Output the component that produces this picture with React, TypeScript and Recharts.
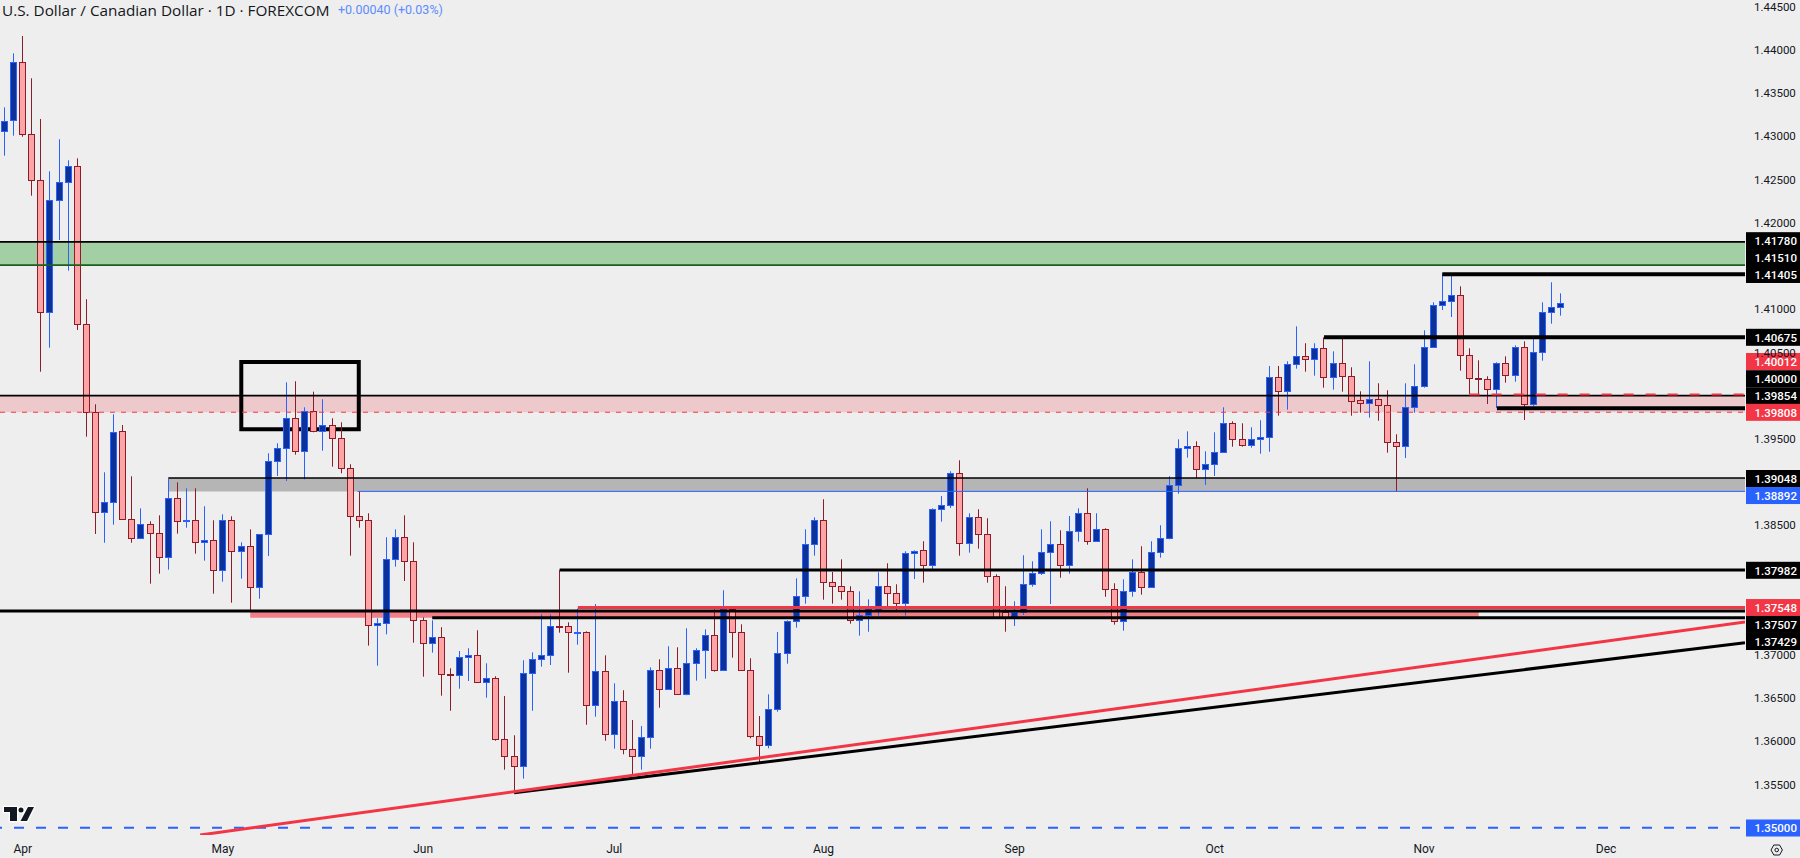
import { Bar, ComposedChart, ReferenceArea, ReferenceDot, ReferenceLine, XAxis, YAxis } from "recharts";

// USD/CAD daily candles
const opens = [
  1.43059, 1.43186, 1.43864, 1.43024, 1.42492, 1.40971, 1.42260, 1.42476, 1.42661, 1.40825,
  1.39814, 1.38650, 1.38766, 1.39587, 1.38569, 1.38349, 1.38511, 1.38407, 1.38129, 1.38812,
  1.38550, 1.38558, 1.38303, 1.38326, 1.37979, 1.38558, 1.38199, 1.38257, 1.37782, 1.38396,
  1.39240, 1.39391, 1.39745, 1.39356, 1.39826, 1.39587, 1.39664, 1.39506, 1.39159, 1.38604,
  1.38558, 1.37343, 1.37366, 1.38106, 1.38361, 1.38083, 1.37400, 1.37134, 1.37204, 1.36776,
  1.36764, 1.36972, 1.36995, 1.36683, 1.36729, 1.36023, 1.35827, 1.35711, 1.36787, 1.36949,
  1.36995, 1.37331, 1.37331, 1.37258, 1.37262, 1.36417, 1.36810, 1.36081, 1.36463, 1.35908,
  1.35827, 1.36047, 1.36822, 1.36602, 1.36845, 1.36544, 1.36903, 1.37053, 1.37227, 1.36822,
  1.37528, 1.37262, 1.36822, 1.36058, 1.35954, 1.36371, 1.37019, 1.37389, 1.37678, 1.38280,
  1.38558, 1.37840, 1.37794, 1.37736, 1.37400, 1.37458, 1.37528, 1.37794, 1.37713, 1.37597,
  1.38176, 1.38210, 1.38037, 1.38685, 1.38731, 1.39101, 1.38291, 1.38592, 1.38396, 1.37910,
  1.37493, 1.37435, 1.37493, 1.37817, 1.37944, 1.38187, 1.38280, 1.38037, 1.38430, 1.38639,
  1.38315, 1.38453, 1.37759, 1.37389, 1.37736, 1.37956, 1.37782, 1.38187, 1.38349, 1.38963,
  1.39391, 1.39414, 1.39148, 1.39206, 1.39344, 1.39680, 1.39495, 1.39425, 1.39495, 1.39518,
  1.40212, 1.40050, 1.40363, 1.40455, 1.40421, 1.40548, 1.40212, 1.40374, 1.40224, 1.39946,
  1.39918, 1.39958, 1.39895, 1.39460, 1.39421, 1.39865, 1.40108, 1.40559, 1.41045, 1.41092,
  1.41161, 1.40467, 1.40201, 1.40189, 1.40073, 1.40374, 1.40235, 1.40559, 1.39900, 1.40502,
  1.40964, 1.41022,
];
const highs = [
  1.43336, 1.43961, 1.44161, 1.43672, 1.43201, 1.42596, 1.42966, 1.42723, 1.42746, 1.41115,
  1.39900, 1.39113, 1.39784, 1.39660, 1.39067, 1.38696, 1.38546, 1.38615, 1.39035, 1.38997,
  1.38928, 1.38928, 1.38720, 1.38558, 1.38627, 1.38604, 1.38303, 1.38453, 1.38396, 1.39333,
  1.39449, 1.40154, 1.40166, 1.39865, 1.40046, 1.39958, 1.39738, 1.39692, 1.39206, 1.38893,
  1.38639, 1.37424, 1.38361, 1.38453, 1.38615, 1.38303, 1.37435, 1.37400, 1.37320, 1.36845,
  1.37045, 1.37077, 1.37285, 1.36903, 1.36753, 1.36525, 1.36070, 1.36938, 1.37030, 1.37473,
  1.37470, 1.37979, 1.37377, 1.37535, 1.37273, 1.37589, 1.36995, 1.36671, 1.36591, 1.36247,
  1.36177, 1.36856, 1.36949, 1.37100, 1.37088, 1.37308, 1.37077, 1.37296, 1.37528, 1.37748,
  1.37531, 1.37354, 1.36961, 1.36293, 1.36544, 1.37265, 1.37400, 1.37886, 1.38453, 1.38592,
  1.38801, 1.37959, 1.38106, 1.37794, 1.37736, 1.37643, 1.37956, 1.38060, 1.37817, 1.38199,
  1.38210, 1.38315, 1.38696, 1.38839, 1.39125, 1.39252, 1.38639, 1.38685, 1.38581, 1.37933,
  1.37794, 1.37620, 1.38153, 1.38083, 1.38453, 1.38546, 1.38442, 1.38607, 1.38696, 1.38928,
  1.38639, 1.38465, 1.37829, 1.37875, 1.38106, 1.38257, 1.38315, 1.38500, 1.39067, 1.39495,
  1.39587, 1.39472, 1.39356, 1.39576, 1.39865, 1.39703, 1.39680, 1.39634, 1.39715, 1.40343,
  1.40343, 1.40397, 1.40802, 1.40606, 1.40606, 1.40675, 1.40513, 1.40675, 1.40328, 1.40050,
  1.40397, 1.40143, 1.40062, 1.39553, 1.40143, 1.40363, 1.40756, 1.41080, 1.41416, 1.41416,
  1.41265, 1.40548, 1.40409, 1.40224, 1.40386, 1.40455, 1.40582, 1.40629, 1.40667, 1.41080,
  1.41312, 1.41184,
];
const lows = [
  1.42776, 1.43008, 1.42996, 1.42314, 1.40277, 1.40555, 1.41801, 1.41446, 1.40760, 1.39525,
  1.38399, 1.38298, 1.38507, 1.38561, 1.38298, 1.38349, 1.37824, 1.37940, 1.37986, 1.38403,
  1.38472, 1.38171, 1.38090, 1.37708, 1.37847, 1.37604, 1.37882, 1.37508, 1.37650, 1.38145,
  1.39070, 1.39012, 1.39317, 1.39032, 1.39576, 1.39363, 1.39178, 1.39101, 1.38148, 1.38472,
  1.37107, 1.36875, 1.37238, 1.38021, 1.37855, 1.37141, 1.36748, 1.37026, 1.36528, 1.36354,
  1.36609, 1.36698, 1.36678, 1.36505, 1.36007, 1.35672, 1.35414, 1.35568, 1.36354, 1.36864,
  1.36883, 1.37257, 1.36794, 1.37118, 1.36192, 1.36285, 1.36007, 1.35915, 1.35850, 1.35614,
  1.35672, 1.35915, 1.36389, 1.36602, 1.36544, 1.36533, 1.36702, 1.36725, 1.36806, 1.36822,
  1.36968, 1.36822, 1.36035, 1.35761, 1.35919, 1.36343, 1.36898, 1.37315, 1.37593, 1.38148,
  1.37639, 1.37593, 1.37639, 1.37361, 1.37222, 1.37268, 1.37454, 1.37558, 1.37520, 1.37454,
  1.37878, 1.37836, 1.37991, 1.38541, 1.38700, 1.38148, 1.38183, 1.38229, 1.37836, 1.37427,
  1.37268, 1.37335, 1.37462, 1.37789, 1.37925, 1.37589, 1.37893, 1.37940, 1.38310, 1.38275,
  1.38315, 1.37673, 1.37350, 1.37280, 1.37673, 1.37697, 1.37782, 1.38125, 1.38338, 1.38865,
  1.39282, 1.39044, 1.38966, 1.39070, 1.39344, 1.39409, 1.39409, 1.39398, 1.39328, 1.39351,
  1.39768, 1.39837, 1.40312, 1.40277, 1.40231, 1.40092, 1.40069, 1.40046, 1.39768, 1.39803,
  1.39745, 1.39710, 1.39340, 1.38893, 1.39278, 1.39803, 1.40092, 1.40559, 1.40991, 1.40910,
  1.40289, 1.40016, 1.40016, 1.39903, 1.39857, 1.40150, 1.40161, 1.39718, 1.39880, 1.40404,
  1.40832, 1.40925,
];
const closes = [
  1.43181, 1.43864, 1.43024, 1.42492, 1.40971, 1.42260, 1.42476, 1.42661, 1.40825, 1.39814,
  1.38650, 1.38766, 1.39583, 1.38569, 1.38349, 1.38511, 1.38407, 1.38129, 1.38812, 1.38546,
  1.38558, 1.38303, 1.38326, 1.37979, 1.38558, 1.38199, 1.38257, 1.37782, 1.38396, 1.39240,
  1.39391, 1.39745, 1.39356, 1.39826, 1.39587, 1.39664, 1.39506, 1.39159, 1.38604, 1.38558,
  1.37343, 1.37366, 1.38106, 1.38361, 1.38083, 1.37400, 1.37134, 1.37204, 1.36776, 1.36770,
  1.36972, 1.36995, 1.36683, 1.36729, 1.36023, 1.35827, 1.35711, 1.36787, 1.36949, 1.36995,
  1.37331, 1.37326, 1.37262, 1.37262, 1.36417, 1.36810, 1.36081, 1.36463, 1.35908, 1.35827,
  1.36047, 1.36822, 1.36602, 1.36845, 1.36544, 1.36903, 1.37053, 1.37227, 1.36822, 1.37528,
  1.37262, 1.36822, 1.36058, 1.35954, 1.36371, 1.37019, 1.37389, 1.37678, 1.38280, 1.38558,
  1.37840, 1.37794, 1.37736, 1.37400, 1.37458, 1.37528, 1.37794, 1.37713, 1.37597, 1.38176,
  1.38205, 1.38037, 1.38685, 1.38731, 1.39101, 1.38291, 1.38592, 1.38396, 1.37910, 1.37439,
  1.37439, 1.37493, 1.37817, 1.37944, 1.38187, 1.38280, 1.38037, 1.38430, 1.38639, 1.38315,
  1.38453, 1.37759, 1.37389, 1.37736, 1.37956, 1.37782, 1.38187, 1.38349, 1.38963, 1.39391,
  1.39414, 1.39148, 1.39206, 1.39344, 1.39680, 1.39495, 1.39425, 1.39495, 1.39518, 1.40212,
  1.40050, 1.40363, 1.40455, 1.40421, 1.40548, 1.40212, 1.40374, 1.40224, 1.39941, 1.39918,
  1.39958, 1.39895, 1.39460, 1.39421, 1.39865, 1.40108, 1.40559, 1.41045, 1.41092, 1.41161,
  1.40467, 1.40201, 1.40189, 1.40073, 1.40374, 1.40235, 1.40559, 1.39900, 1.40502, 1.40964,
  1.41022, 1.41068,
];

const candles = opens.map((open, i) => ({ i, open, high: highs[i], low: lows[i], close: closes[i] }));

const priceTicks = [
  1.445, 1.44, 1.435, 1.43, 1.425, 1.42, 1.41, 1.405, 1.395, 1.385, 1.37, 1.365, 1.36, 1.355,
];
const monthTicks = [2, 24, 46, 67, 90, 111, 133, 156, 176];
const monthNames = ["Apr", "May", "Jun", "Jul", "Aug", "Sep", "Oct", "Nov", "Dec"];

// price scale tags: shown text, and where the tag sits once TV has pushed them apart
const tagTexts = ["1.41780", "1.41510", "1.41405", "1.40675", "1.40012", "1.40000", "1.39854", "1.39808",
  "1.39048", "1.38892", "1.37982", "1.37548", "1.37507", "1.37429", "1.35000"];
const tagAt = [1.41793, 1.41598, 1.41402, 1.40675, 1.40395, 1.40196, 1.39999, 1.39807,
  1.39041, 1.38844, 1.37979, 1.37548, 1.37352, 1.37155, 1.34997];
const tagKinds = ["black", "black", "black", "black", "red", "black", "black", "red",
  "black", "blue", "black", "red", "black", "black", "blue"];

const X_MIN = -0.4945;
const X_MAX = 191.26;
const Y_MIN = 1.34916;
const Y_MAX = 1.44578;

const UP_BODY = "#0c3299";
const UP_LINE = "#2962ff";
const DOWN_BODY = "#fda4a6";
const DOWN_LINE = "#8e1c28";
const RED = "#f23645";
const TAG_BG: Record<string, string> = { black: "#000000", red: RED, blue: "#2962ff" };
const FONT = "Roboto, sans-serif";

function Candle(props: any) {
  const { x, y, width, height, payload } = props;
  if (height === undefined) return null;
  const k = height / (payload.high - payload.low);
  const up = payload.close >= payload.open;
  const cx = Math.floor(x + width / 2) + 0.5;
  const top = Math.round(y + (payload.high - Math.max(payload.open, payload.close)) * k) + 0.5;
  const bot = Math.max(top + 1, Math.round(y + (payload.high - Math.min(payload.open, payload.close)) * k) + 0.5);
  const line = up ? UP_LINE : DOWN_LINE;
  return (
    <g>
      <line x1={cx} x2={cx} y1={y} y2={y + height} stroke={line} strokeWidth={1} />
      <rect x={cx - 3} y={top} width={6} height={bot - top} fill={up ? UP_BODY : DOWN_BODY} stroke={line} strokeWidth={1} />
    </g>
  );
}

function PriceTag(props: any) {
  const { cx, cy, text, bg } = props;
  return (
    <g>
      <rect x={cx + 1} y={cy - 8.5} width={54} height={17} fill={bg} />
      <text x={cx + 9.5} y={cy + 4.5} fill="#ffffff" fontSize={11.5} fontFamily={FONT} fontWeight={500}>{text}</text>
    </g>
  );
}

// flat drawing that runs from a bar index to the right edge
function level(price: number, from: number, color: string, width: number, dash?: string, dashOffset?: number) {
  return (
    <ReferenceLine
      key={`${price}-${color}`}
      segment={[{ x: from, y: price }, { x: X_MAX, y: price }]}
      stroke={color}
      strokeWidth={width}
      strokeDasharray={dash}
      strokeDashoffset={dashOffset}
      ifOverflow="hidden"
    />
  );
}

export default function App() {
  return (
    <div style={{ position: "absolute", left: 0, top: 0, width: 1800, height: 858, background: "#eeeeee", overflow: "hidden" }}>
      <ComposedChart width={1800} height={858} data={candles} margin={{ top: 0, right: 0, left: 0, bottom: 0 }}>
        <XAxis
          type="number" dataKey="i" domain={[X_MIN, X_MAX]} allowDataOverflow ticks={monthTicks} interval={0}
          height={23} axisLine={false} tickLine={false} tickSize={0} tickMargin={9}
          tick={{ fill: "#131722", fontSize: 12, fontFamily: FONT }}
          tickFormatter={(v) => monthNames[monthTicks.indexOf(v)]}
        />
        <YAxis
          orientation="right" domain={[Y_MIN, Y_MAX]} allowDataOverflow ticks={priceTicks} interval={0} width={55}
          axisLine={false} tickLine={false} tickSize={0} tickMargin={9}
          tick={{ fill: "#131722", fontSize: 11.5, fontFamily: FONT }}
          tickFormatter={(v) => v.toFixed(5)}
        />
        <Bar dataKey={(d: any) => [d.low, d.high]} barSize={7} shape={<Candle />} isAnimationActive={false} />

        <ReferenceArea y1={1.4151} y2={1.4178} fill="#4caf50" fillOpacity={0.47} stroke="none" />
        <ReferenceArea y1={1.39808} y2={1.4} fill={RED} fillOpacity={0.2} stroke="none" />
        <ReferenceArea x1={18} x2={X_MAX} y1={1.38892} y2={1.39048} fill="#000000" fillOpacity={0.24} stroke="none" />
        <ReferenceArea x1={27} x2={162} y1={1.37429} y2={1.37507} fill={RED} fillOpacity={0.6} stroke="none" />
        <ReferenceArea x1={26.02} x2={38.93} y1={1.3961} y2={1.40389} fill="none" stroke="#000000" strokeWidth={4} />

        {level(1.4178, X_MIN, "#000000", 1.7)}
        {level(1.4151, X_MIN, "#1b5e20", 1.7)}
        {level(1.41405, 158, "#000000", 4)}
        {level(1.40675, 145, "#000000", 4)}
        {level(1.4, X_MIN, "#000000", 1.7)}
        {level(1.40012, 161, RED, 2, "10 12")}
        {level(1.39854, 164, "#000000", 4)}
        {level(1.39808, X_MIN, RED, 1, "5 6")}
        {level(1.39048, 18, "#000000", 1.5)}
        {level(1.38892, 38.8, "#2962ff", 1)}
        {level(1.37982, 61, "#000000", 3)}
        {level(1.37548, 63, RED, 3)}
        {level(1.37507, X_MIN, "#000000", 3)}
        {level(1.37429, 47, "#000000", 3)}
        {level(1.35, X_MIN, "#2962ff", 2, "10 12", 8)}

        <ReferenceLine segment={[{ x: 56, y: 1.35406 }, { x: X_MAX, y: 1.37141 }]} stroke="#000000" strokeWidth={3} ifOverflow="hidden" />
        <ReferenceLine segment={[{ x: 21.5, y: Y_MIN }, { x: X_MAX, y: 1.37381 }]} stroke={RED} strokeWidth={3} ifOverflow="hidden" />

        {tagTexts.map((t, n) => (
          <ReferenceDot
            key={t} x={X_MAX} y={tagAt[n]} ifOverflow="visible" isFront
            shape={(p: any) => <PriceTag {...p} text={t} bg={TAG_BG[tagKinds[n]]} />}
          />
        ))}
      </ComposedChart>

      <div style={{ position: "absolute", left: 2, top: 1, whiteSpace: "nowrap", fontFamily: "'Open Sans', sans-serif", fontSize: 15.3, lineHeight: "18px", color: "#131722" }}>
        U.S. Dollar / Canadian Dollar · 1D · FOREXCOM
      </div>
      <div style={{ position: "absolute", left: 338, top: 1, whiteSpace: "nowrap", fontFamily: FONT, fontSize: 12.5, lineHeight: "18px", color: "#5b8cff" }}>
        +0.00040 (+0.03%)
      </div>

      <svg style={{ position: "absolute", left: 0, top: 0 }} width={1800} height={858}>
        <g stroke="#ffffff" strokeWidth={2.5} paintOrder="stroke" fill="#131722">
          <path d="M4 807 H17 V821 H10 V812 H4 Z" />
          <circle cx={21} cy={810} r={2.5} />
          <path d="M28 807 H34 L27 821 H20.5 Z" />
        </g>
        <path d="M1771 850 L1773.8 845 H1779.6 L1782.4 850 L1779.6 855 H1773.8 Z" fill="none" stroke="#131722" strokeWidth={1} />
        <circle cx={1776.7} cy={850} r={1.8} fill="none" stroke="#131722" strokeWidth={1} />
      </svg>
    </div>
  );
}
